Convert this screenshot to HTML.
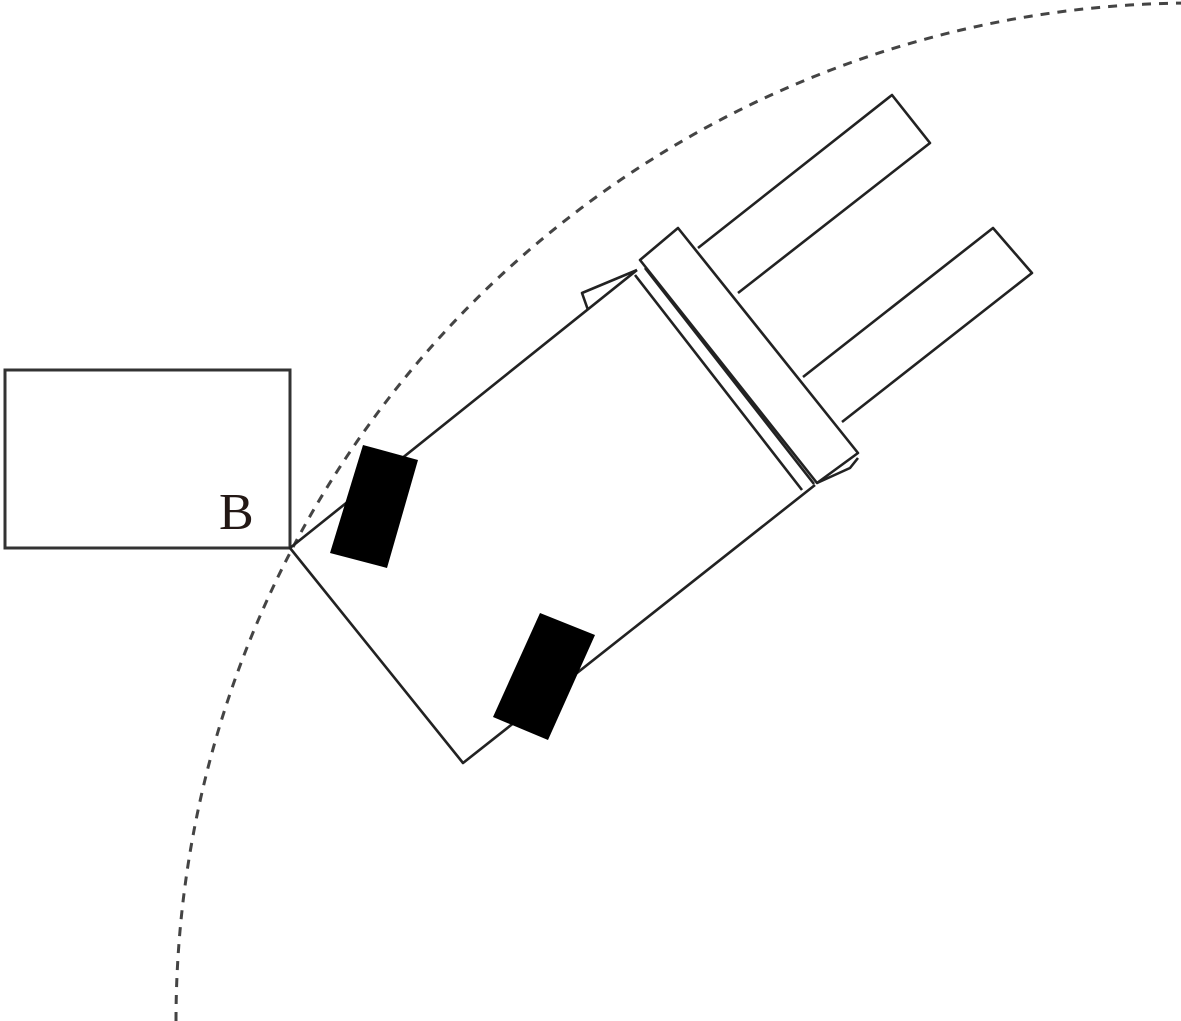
<!DOCTYPE html>
<html><head><meta charset="utf-8"><style>
html,body{margin:0;padding:0;background:#fff;}
svg{display:block;}
</style></head><body>
<svg width="1181" height="1021" viewBox="0 0 1181 1021" xmlns="http://www.w3.org/2000/svg">
<path d="M176 1021 A1018 1018 0 0 1 1194 3" fill="none" stroke="#444" stroke-width="3" stroke-dasharray="9 8"/>
<rect x="5" y="370" width="285" height="178" fill="#fff" stroke="#333" stroke-width="3"/>
<text x="219" y="529" font-family="Liberation Serif, serif" font-size="52" fill="#231815">B</text>
<g fill="none" stroke="#222" stroke-width="2.6" stroke-linejoin="round">
<polyline points="637,270 290,548 463,763 815,485"/>
<polygon points="640,260 678,228 858,453 817,483"/>
<line x1="635" y1="275" x2="802" y2="490"/>
<line x1="645" y1="268" x2="814" y2="484"/>
<polyline points="698,248 892,95 930,143 738,293"/>
<polyline points="803,377 993,228 1032,273 842,422"/>
<polyline points="588,310 582,293 637,270"/>
<polyline points="817,483 850,468 858,458"/>
</g>
<polygon points="363,445 418,460 387,568 330,553" fill="#000"/>
<polygon points="540,613 595,635 548,740 493,717" fill="#000"/>
</svg>
</body></html>
